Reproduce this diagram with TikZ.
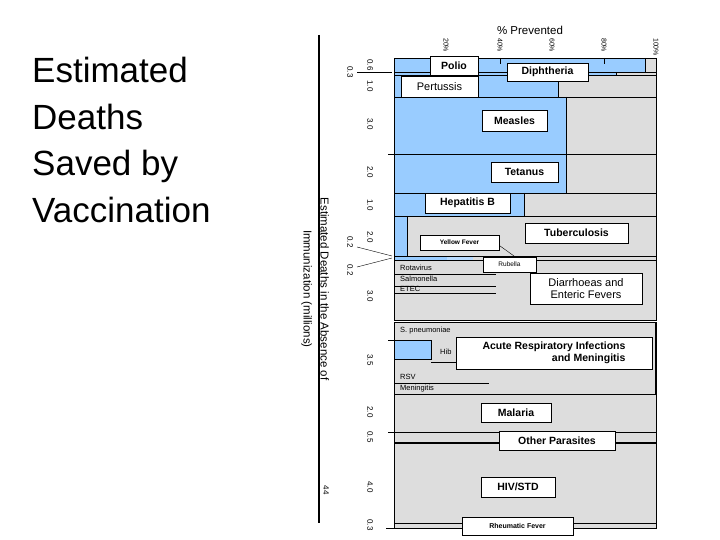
\documentclass[tikz,border=0pt]{standalone}
\usepackage{fontspec}
\setmainfont{Liberation Sans}
\begin{document}
\begin{tikzpicture}[x=1pt,y=-1pt,
  lab/.style={draw=black,fill=white,line width=0.8pt,font=\bfseries\fontsize{10.5}{12}\selectfont,inner sep=0pt},
  sm/.style={font=\fontsize{7.5}{8}\selectfont,inner sep=0pt,anchor=west},
  num/.style={font=\fontsize{8}{9}\selectfont,rotate=-90,inner sep=0pt}]
\definecolor{vb}{HTML}{99CCFF}
\definecolor{vg}{HTML}{DDDDDD}
\tikzset{bl/.style={fill=vb,draw=black,line width=0.5pt},gr/.style={fill=vg,draw=black,line width=0.5pt}}
\useasboundingbox (0,0) rectangle (720,540);
% title
\node[anchor=north west,align=left,font=\fontsize{35}{46.5}\selectfont,inner sep=0pt] (title) at (32,57) {Estimated\\Deaths\\Saved by\\Vaccination};
% rows
\foreach \a/\b/\c in {58/72/645,72/75/616,75/97/558,97/154/566,154/193/566,193/216/524,216/256/407}{
  \fill[vg] (394,\a) rectangle (656,\b);
  \fill[vb] (394,\a) rectangle (\c,\b);
  \draw[line width=0.6pt] (394,\a) rectangle (656,\b);
  \draw[line width=0.6pt] (\c,\a) -- (\c,\b);
}
\fill[vg] (394,256) rectangle (656,260);
\fill[vb!70!white] (394,256) rectangle (473,260);
\fill[vb] (394,256) rectangle (447,260);
\draw[line width=0.6pt] (394,256) rectangle (656,260);
\draw[gr,line width=0.8pt] (394,260) rectangle (656,320);
\draw[gr,line width=0.8pt] (394,322) rectangle (656,394);
\draw[line width=1.6pt] (656,322) -- (656,528);
\draw[bl,line width=1pt] (394,340) rectangle (431,359);
\draw (431,362) -- (460,362);
\draw (394,383) -- (489,383);
\draw[gr,line width=0.8pt] (394,394) rectangle (656,432);
\draw[gr,line width=0.8pt] (394,432) rectangle (656,443);
\draw[line width=1.3pt] (394,443) -- (656,443);
\draw[gr,line width=0.8pt] (394,443) rectangle (656,523);
\draw[gr,line width=0.8pt] (394,523) rectangle (656,528);
\draw (394,274) -- (496,274);
\draw (394,286) -- (496,286);
\draw (394,293) -- (496,293);
% small labels
\node[sm] (rota) at (400,268) {Rotavirus};
\node[sm] (salm) at (400,279) {Salmonella};
\node[sm] (etec) at (400,289) {ETEC};
\node[sm] (spn) at (400,331) {S. pneumoniae};
\node[sm] (hib) at (440,352) {Hib};
\node[sm] (rsv) at (400,377) {RSV};
\node[sm] (men) at (400,389) {Meningitis};
% label boxes
\node[lab,minimum width=48,minimum height=19] (polio) at (454,65.5) {Polio};
\node[lab,minimum width=81,minimum height=18] (diph) at (547.5,72) {Diphtheria};
\node[lab,minimum width=77,minimum height=21,font=\fontsize{11}{12}\selectfont] (pert) at (439.5,86.5) {Pertussis};
\node[lab,minimum width=65,minimum height=21] (meas) at (514.5,120.5) {Measles};
\node[lab,minimum width=67,minimum height=20] (tet) at (524.5,172) {Tetanus};
\node[lab,minimum width=85,minimum height=20] (hepb) at (467.5,203) {Hepatitis B};
\node[lab,minimum width=103,minimum height=20] (tb) at (576.5,233) {Tuberculosis};
\node[lab,minimum width=79,minimum height=15,font=\bfseries\fontsize{6.5}{8}\selectfont] (yf) at (459.5,242.5) {Yellow Fever};
\node[lab,minimum width=53,minimum height=15,font=\fontsize{6.5}{8}\selectfont] (rub) at (509.5,264.5) {Rubella};
\node[lab,minimum width=112,minimum height=31,align=center,font=\fontsize{11}{12.5}\selectfont] (diar) at (586,288.5) {Diarrhoeas and\\Enteric Fevers};
\node[lab,minimum width=196,minimum height=32,align=right,inner xsep=4pt] (ari) at (554,353) {Acute Respiratory Infections\\and Meningitis};
\node[lab,minimum width=70,minimum height=19] (mal) at (516,412.5) {Malaria};
\node[lab,minimum width=116,minimum height=19] (oth) at (557,440.5) {Other Parasites};
\node[lab,minimum width=74,minimum height=20] (hiv) at (518,487) {HIV/STD};
\node[lab,minimum width=111,minimum height=18,font=\bfseries\fontsize{7}{8}\selectfont] (rheu) at (517.5,526) {Rheumatic Fever};
\coordinate (yfend) at (514,256);
\draw (yf.east) ++(0,3) -- (yfend);
% top axis
\node[font=\fontsize{11.5}{13}\selectfont] (prev) at (530,30) {\% Prevented};
\foreach \x/\t in {446/20,500/40,552/60,604/80,656/100}{
  \node[num,anchor=west,font=\fontsize{7}{8}\selectfont] at (\x,38) {\t\%};
}
\draw (500,58) -- (500,64);
\draw (604,58) -- (604,64);
% left axis
\draw[line width=1.5pt] (319,35) -- (319,523);
\node[rotate=-90,font=\fontsize{11.5}{17}\selectfont,inner sep=0pt,align=center] (ytitle) at (315,289) {Estimated Deaths in the Absence of\\Immunization (millions)};
\foreach \y/\t in {65/0.6,86/1.0,124/3.0,172/2.0,205/1.0,237/2.0,296/3.0,360/3.5,412/2.0,437/0.5,487/4.0,525/0.3}{
  \node[num] at (370,\y) {\t};
}
\foreach \y/\t in {72/0.3,242/0.2,270/0.2}{
  \node[num] at (350,\y) {\t};
}
\node[num] (n44) at (326,490) {44};
\draw (357,72) -- (392,72);
\draw (357,247) -- (392,256);
\draw (357,267) -- (392,258);
\foreach \y in {154,340,432}{ \draw (388,\y) -- (398,\y); }
\draw (386,528) -- (394,528);
\end{tikzpicture}
\end{document}
